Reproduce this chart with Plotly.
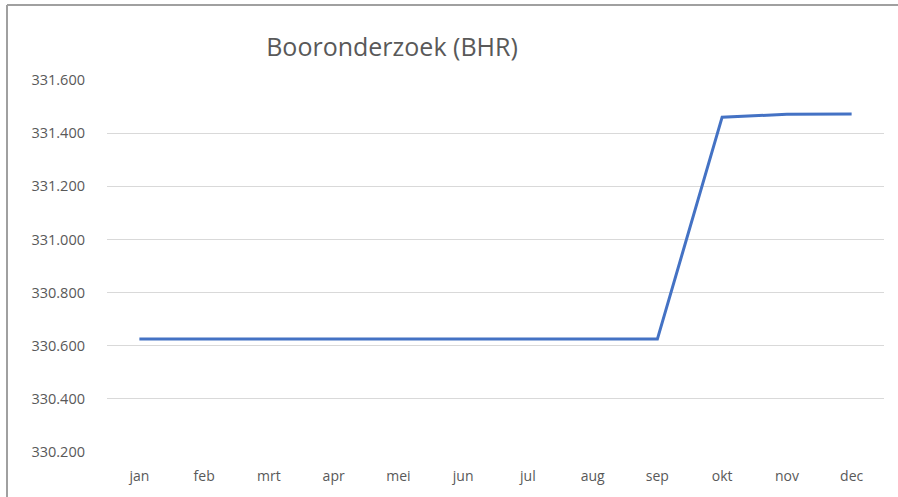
import plotly.graph_objects as go

months = ["jan", "feb", "mrt", "apr", "mei", "jun", "jul", "aug", "sep", "okt", "nov", "dec"]
values = [330625, 330625, 330625, 330625, 330625, 330625, 330625, 330625, 330625, 331460, 331471, 331472]
tick_vals = [330200, 330400, 330600, 330800, 331000, 331200, 331400, 331600]
tick_text = ["330.200", "330.400", "330.600", "330.800", "331.000", "331.200", "331.400", "331.600"]
title_text = "Booronderzoek (BHR)"

W, H = 898, 497
L, R, T, B = 107, 14, 80, 45
pw, ph = W - L - R, H - T - B

fig = go.Figure()
fig.add_trace(go.Scatter(
    x=months, y=values, mode="lines",
    line=dict(color="#4472C4", width=3),
    hoverinfo="skip", showlegend=False,
))

# chart border (top and left visible)
bx = (7 - L) / pw
by = 1 + (T - 5) / ph
fig.add_shape(type="line", xref="paper", yref="paper", x0=bx, x1=1 + (R + 5) / pw, y0=by, y1=by,
              line=dict(color="#a0a0a0", width=2))
fig.add_shape(type="line", xref="paper", yref="paper", x0=bx, x1=bx, y0=by, y1=-(B + 5) / ph,
              line=dict(color="#a0a0a0", width=2))

fig.update_layout(
    width=W, height=H,
    margin=dict(l=L, r=R, t=T, b=B),
    paper_bgcolor="white", plot_bgcolor="white",
    title=dict(text=title_text, x=392 / W, xref="container", xanchor="center",
               y=1 - 47 / H, yref="container", yanchor="middle",
               font=dict(family="Open Sans", size=25, color="#595959")),
    font=dict(family="Open Sans", size=14, color="#595959"),
    xaxis=dict(type="category", showgrid=False, zeroline=False, showline=False,
               ticks="", ticklabelstandoff=14, range=[-0.5, 11.5],
               tickfont=dict(size=14, color="#595959")),
    yaxis=dict(range=[330200, 331600], tickvals=tick_vals, ticktext=tick_text,
               showgrid=True, gridcolor="#d9d9d9", gridwidth=1, zeroline=False,
               showline=False, ticks="", ticklabelstandoff=21,
               tickfont=dict(size=14.5, color="#595959")),
)

fig.write_html("out.html", config={"displayModeBar": False},
               post_script="document.body.style.margin='0px';document.body.style.overflow='hidden';")
